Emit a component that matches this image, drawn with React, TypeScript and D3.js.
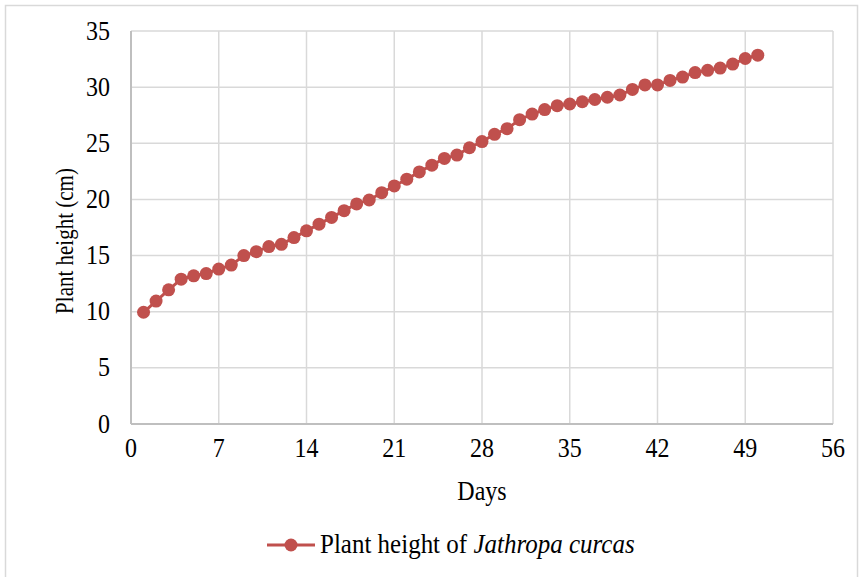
import React from "react";
import * as d3 from "d3";

const days: number[] = Array.from({ length: 50 }, (_, i) => i + 1);
const heights: number[] = [
  9.95, 10.95, 11.95, 12.9, 13.2, 13.4, 13.8, 14.15, 15.0, 15.35,
  15.8, 16.0, 16.6, 17.2, 17.8, 18.4, 19.0, 19.6, 19.95, 20.6,
  21.2, 21.8, 22.45, 23.05, 23.65, 23.95, 24.6, 25.15, 25.8, 26.3,
  27.1, 27.6, 28.0, 28.35, 28.5, 28.7, 28.9, 29.1, 29.3, 29.8,
  30.2, 30.2, 30.6, 30.9, 31.3, 31.5, 31.7, 32.05, 32.55, 32.85,
];
const xTicks: number[] = [0, 7, 14, 21, 28, 35, 42, 49, 56];
const yTicks: number[] = [0, 5, 10, 15, 20, 25, 30, 35];
const seriesName = "Plant height of ";
const seriesNameItalic = "Jathropa curcas";
const xTitle = "Days";
const yTitle = "Plant height (cm)";

export default function App() {
  const W = 866, H = 577;
  const left = 131, right = 833, top = 31, bottom = 424;
  const x = d3.scaleLinear().domain([0, 56]).range([left, right]);
  const y = d3.scaleLinear().domain([0, 35]).range([bottom, top]);
  const color = "#C0504D";
  const font = "'Liberation Serif', 'Times New Roman', serif";
  const line = d3
    .line<number>()
    .x((_, i) => x(days[i]))
    .y((d) => y(d));
  const st = (tx: number, ty: number) => `translate(${tx},${ty}) scale(1,1.1)`;
  return (
    <svg
      width={W}
      height={H}
      style={{ position: "absolute", left: 0, top: 0, background: "#fff" }}
      fontFamily={font}
    >
      <rect x={0} y={0} width={W} height={H} fill="#fff" />
      <rect x={5.5} y={5.5} width={852} height={H + 10} fill="none" stroke="#D9D9D9" strokeWidth={1.5} />
      {yTicks.map((t) => (
        <line key={"gy" + t} x1={left} x2={right} y1={y(t)} y2={y(t)} stroke="#D9D9D9" strokeWidth={1.5} />
      ))}
      {xTicks.map((t) => (
        <line key={"gx" + t} x1={x(t)} x2={x(t)} y1={top} y2={bottom} stroke="#D9D9D9" strokeWidth={1.5} />
      ))}
      <line x1={left} x2={left} y1={top} y2={bottom} stroke="#BFBFBF" strokeWidth={2} />
      <line x1={left} x2={right} y1={bottom} y2={bottom} stroke="#BFBFBF" strokeWidth={2} />
      {yTicks.map((t) => (
        <text key={"ty" + t} transform={st(110, y(t) + 8.5)} textAnchor="end" fontSize={24} fill="#000">
          {t}
        </text>
      ))}
      {xTicks.map((t) => (
        <text key={"tx" + t} transform={st(x(t), 457)} textAnchor="middle" fontSize={24} fill="#000">
          {t}
        </text>
      ))}
      <text transform={st((left + right) / 2, 500)} textAnchor="middle" fontSize={24} fill="#000">
        {xTitle}
      </text>
      <text
        transform={`translate(73, 241) scale(1.2,1) rotate(-90)`}
        textAnchor="middle"
        fontSize={21}
        fill="#000"
      >
        {yTitle}
      </text>
      <path d={line(heights) || ""} fill="none" stroke={color} strokeWidth={3} />
      {heights.map((h, i) => (
        <circle key={"p" + i} cx={x(days[i])} cy={y(h)} r={6.5} fill={color} />
      ))}
      <line x1={267} x2={315} y1={545} y2={545} stroke={color} strokeWidth={3} />
      <circle cx={291} cy={545} r={6.5} fill={color} />
      <text transform={st(320, 553)} fontSize={25} fill="#000">
        {seriesName}
        <tspan fontStyle="italic">{seriesNameItalic}</tspan>
      </text>
    </svg>
  );
}
